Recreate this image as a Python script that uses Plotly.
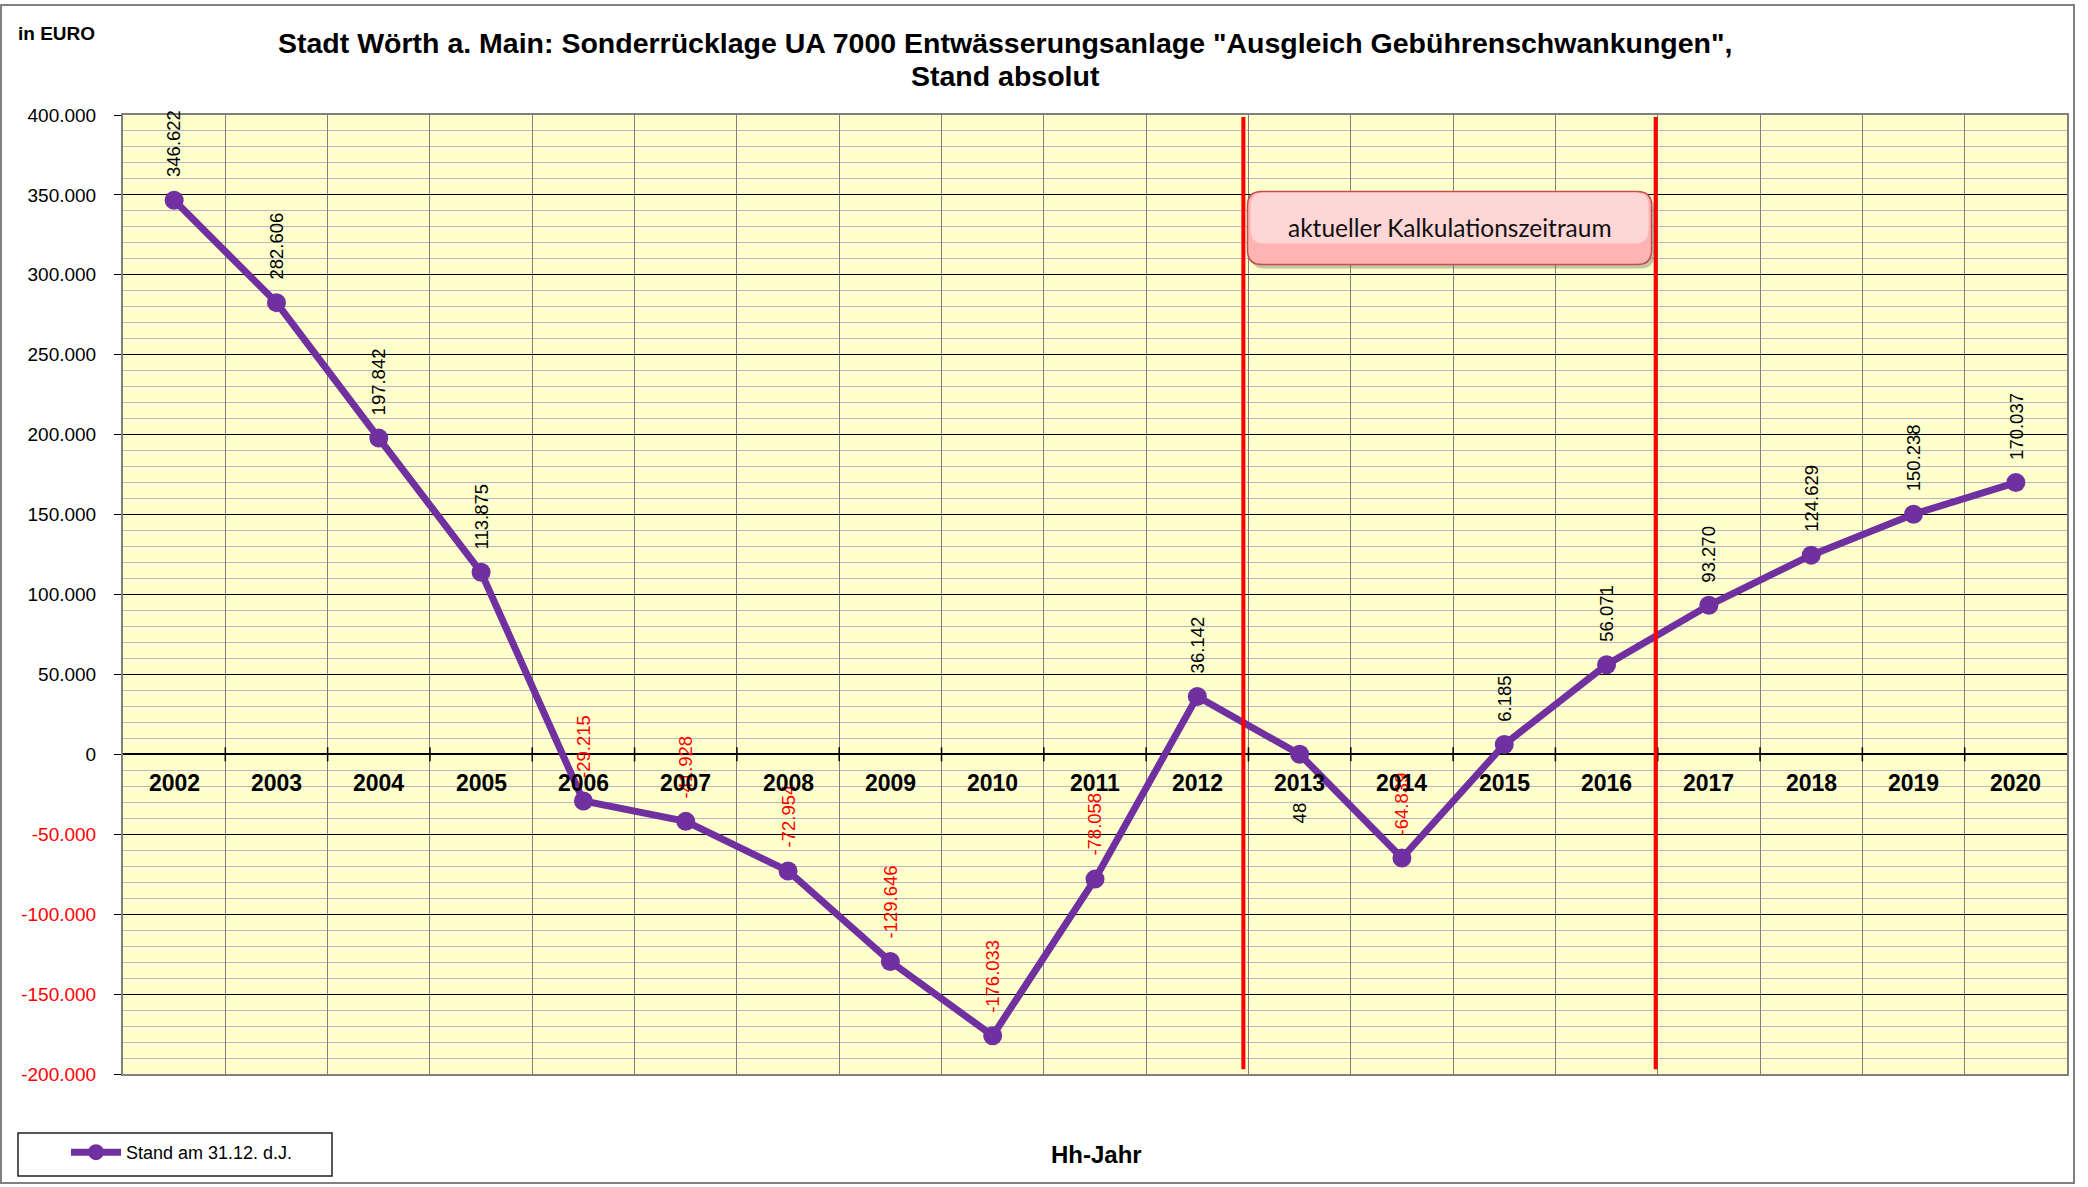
import plotly.graph_objects as go

years = ["2002", "2003", "2004", "2005", "2006", "2007", "2008", "2009", "2010", "2011",
         "2012", "2013", "2014", "2015", "2016", "2017", "2018", "2019", "2020"]
stand = [346622, 282606, 197842, 113875, -29215, -41928, -72954, -129646, -176033, -78058,
         36142, 48, -64839, 6185, 56071, 93270, 124629, 150238, 170037]
label_below = ["2013"]
ytick_vals = [-200000, -150000, -100000, -50000, 0, 50000, 100000, 150000, 200000,
              250000, 300000, 350000, 400000]
calc_period = [10.45, 14.48]   # red separators (category index units)
title_lines = ["Stadt Wörth a. Main: Sonderrücklage UA 7000 Entwässerungsanlage \"Ausgleich Gebührenschwankungen\",",
               "Stand absolut"]

W, H = 2088, 1187
L, R, T, B = 123, 2088 - 2067, 115, 1187 - 1074
PW, PH = W - L - R, H - T - B


def px_x(px):
    return (px - L) / PW


def px_y(py):
    return (H - B - py) / PH


def de(v):
    return f"{v:,}".replace(",", ".")


FONT = "Liberation Sans, Arial, sans-serif"
PURPLE = "#7030A0"

fig = go.Figure()
fig.add_trace(go.Scatter(
    x=years, y=stand, mode="lines+markers", name="Stand am 31.12. d.J.",
    line=dict(color=PURPLE, width=7), marker=dict(color=PURPLE, size=19),
))

ticktext = []
for v in ytick_vals:
    t = de(v)
    ticktext.append(f"<span style='color:red'>{t}</span>" if v < 0 else t)

annotations = []
for i, (yr, v) in enumerate(zip(years, stand)):
    below = yr in label_below
    annotations.append(dict(
        x=i, y=v, xref="x", yref="y", text=de(v), showarrow=False, textangle=-90,
        font=dict(family=FONT, size=18.5, color="red" if v < 0 else "black"),
        xanchor="center", yanchor="top" if below else "bottom", yshift=-46 if below else 21,
    ))
    annotations.append(dict(
        x=i, y=0, xref="x", yref="y", text=f"<b>{yr}</b>", showarrow=False,
        font=dict(family=FONT, size=23, color="black"), xanchor="center", yanchor="top",
        yshift=-14,
    ))

cx = (calc_period[0] + calc_period[1]) / 2
annotations += [
    dict(x=px_x(1005), y=px_y(43), xref="paper", yref="paper", xanchor="center", yanchor="middle",
         text=f"<b>{title_lines[0]}</b>", showarrow=False,
         font=dict(family=FONT, size=28.5, color="black")),
    dict(x=px_x(1005), y=px_y(76), xref="paper", yref="paper", xanchor="center", yanchor="middle",
         text=f"<b>{title_lines[1]}</b>", showarrow=False,
         font=dict(family=FONT, size=28.5, color="black")),
    dict(x=px_x(16), y=px_y(33), xref="paper", yref="paper", xanchor="left", yanchor="middle",
         text="<b>in EURO</b>", showarrow=False, font=dict(family=FONT, size=19, color="black")),
    dict(x=px_x(1096), y=px_y(1154), xref="paper", yref="paper", xanchor="center", yanchor="middle",
         text="<b>Hh-Jahr</b>", showarrow=False, font=dict(family=FONT, size=24, color="black")),
    dict(x=cx, y=px_y(228), xref="x", yref="paper", xanchor="center", yanchor="middle",
         text="aktueller Kalkulationszeitraum", showarrow=False,
         font=dict(family="Lato, Open Sans, sans-serif", size=24.5, color="#111111")),
]

shapes = []
# outer chart border
shapes.append(dict(type="rect", xref="paper", yref="paper", x0=px_x(1), x1=px_x(2074),
                   y0=px_y(1183), y1=px_y(5), line=dict(color="#808080", width=2), layer="below"))
# tick marks on zero line at category boundaries
for i in range(1, len(years)):
    shapes.append(dict(type="line", xref="x", yref="y", x0=i - 0.5, x1=i - 0.5,
                       ysizemode="pixel", yanchor=0, y0=-7, y1=7,
                       line=dict(color="black", width=1.5)))
# red separators
for xv in calc_period:
    shapes.append(dict(type="line", xref="x", yref="paper", x0=xv, x1=xv, y0=0.005, y1=0.998,
                       line=dict(color="#FF0000", width=4)))
# rounded box (with soft shadow)
bw, bh, r = 404, 73, 14
hw, hh = bw / 2, bh / 2


def rounded(dx=0, dy=0, sx=1.0, sy=1.0):
    a, b, c, d = -hw * sx + dx, hw * sx + dx, -hh * sy + dy, hh * sy + dy
    return (f"M {a + r},{c} L {b - r},{c} Q {b},{c} {b},{c + r} "
            f"L {b},{d - r} Q {b},{d} {b - r},{d} L {a + r},{d} "
            f"Q {a},{d} {a},{d - r} L {a},{c + r} Q {a},{c} {a + r},{c} Z")


shapes.append(dict(type="path", xref="x", yref="paper", xsizemode="pixel", ysizemode="pixel",
                   xanchor=cx, yanchor=px_y(228), path=rounded(3, -4),
                   fillcolor="rgba(90,90,90,0.35)", line=dict(width=0)))
shapes.append(dict(type="path", xref="x", yref="paper", xsizemode="pixel", ysizemode="pixel",
                   xanchor=cx, yanchor=px_y(228), path=rounded(),
                   fillcolor="#FFB4B4", line=dict(color="#C0504D", width=1.5)))
# lighter upper part to suggest the gradient
shapes.append(dict(type="path", xref="x", yref="paper", xsizemode="pixel", ysizemode="pixel",
                   xanchor=cx, yanchor=px_y(228), path=rounded(0, 10, 0.985, 0.7),
                   fillcolor="rgba(255,225,225,0.75)", line=dict(width=0)))
# legend box
shapes.append(dict(type="rect", xref="paper", yref="paper", x0=px_x(18), x1=px_x(332),
                   y0=px_y(1176), y1=px_y(1133), line=dict(color="#202020", width=1.5),
                   fillcolor="white", layer="below"))

fig.update_layout(
    width=W, height=H,
    margin=dict(l=L, r=R, t=T, b=B),
    paper_bgcolor="white", plot_bgcolor="#FFFFCC",
    font=dict(family=FONT, color="black"),
    showlegend=True,
    legend=dict(x=px_x(66), y=px_y(1134), xanchor="left", yanchor="top", itemwidth=50,
                bgcolor="rgba(0,0,0,0)", font=dict(family=FONT, size=18, color="black")),
    xaxis=dict(type="category", range=[-0.5, len(years) - 0.5], tickson="boundaries",
               showgrid=True, gridcolor="#808080", gridwidth=1, showticklabels=False,
               ticks="", showline=True, linecolor="#808080", linewidth=2, mirror=True,
               zeroline=False),
    yaxis=dict(range=[-200000, 400000], tickvals=ytick_vals, ticktext=ticktext,
               showgrid=True, gridcolor="#000000", gridwidth=1,
               minor=dict(dtick=10000, showgrid=True, gridcolor="#B8B8CC", gridwidth=1),
               zeroline=True, zerolinecolor="#000000", zerolinewidth=1.5,
               ticks="outside", ticklen=7, tickcolor="black",
               showline=True, linecolor="#808080", linewidth=2, mirror=True,
               tickfont=dict(family=FONT, size=19, color="black"), ticklabelstandoff=14),
    annotations=annotations, shapes=shapes,
)

fig.write_html("out.html", config={"displayModeBar": False},
               post_script="document.body.style.margin='0px';")
